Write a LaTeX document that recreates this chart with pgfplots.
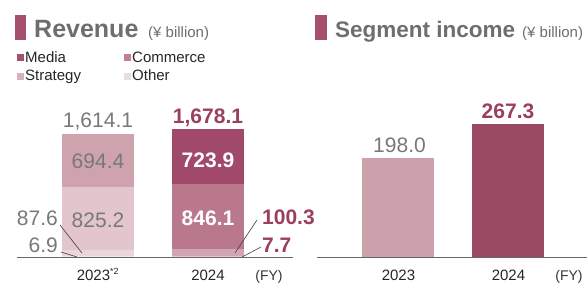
\documentclass[border=0pt]{standalone}
\usepackage{pgfplots}
\pgfplotsset{compat=1.18}
\usepackage{fontspec}
\setmainfont{Liberation Sans}
\definecolor{mediaA}{HTML}{CFA3AE}
\definecolor{commA}{HTML}{E3C6CD}
\definecolor{stratA}{HTML}{EBD6DB}
\definecolor{otherA}{HTML}{F2E6E9}
\definecolor{mediaB}{HTML}{A0496A}
\definecolor{commB}{HTML}{BA788D}
\definecolor{stratB}{HTML}{D2A5B4}
\definecolor{otherB}{HTML}{E6CBD3}
\definecolor{legMedia}{HTML}{A5506C}
\definecolor{legComm}{HTML}{C57F95}
\definecolor{legStrat}{HTML}{D6B0BB}
\definecolor{legOther}{HTML}{EADDE1}
\definecolor{titlegrey}{HTML}{6E6E6E}
\definecolor{numgrey}{HTML}{787878}
\definecolor{accent}{HTML}{9B3F5F}
\definecolor{incA}{HTML}{CDA1AB}
\definecolor{incB}{HTML}{9B4A63}
\begin{document}
\begin{tikzpicture}[x=1pt,y=1pt]
\useasboundingbox (0pt,0pt) rectangle (587pt,282pt);
% ---------- Revenue panel ----------
\begin{axis}[at={(17pt,25pt)}, anchor=south west, scale only axis,
  width=276pt, height=152.6pt,
  xmin=-0.736, xmax=1.773, ymin=0, ymax=2000,
  enlargelimits=false,
  ybar stacked, bar width=72pt,
  axis x line=bottom, axis y line=none,
  x axis line style={-, draw=gray!80!black, line width=0.8pt},
  xtick={0,1}, xticklabels={{2023\textsuperscript{\fontsize{9}{9}\selectfont *2}},2024},
  major tick length=0pt,
  xticklabel style={anchor=base, yshift=-23pt, font=\fontsize{15}{15}\selectfont, text=black!85},
  ytick=\empty, clip=false]
\addplot[fill=otherA, draw=none] coordinates {(0,6.9) (1,0)};
\addplot[fill=stratA, draw=none] coordinates {(0,87.6) (1,0)};
\addplot[fill=commA, draw=none] coordinates {(0,825.2) (1,0)};
\addplot[fill=mediaA, draw=none] coordinates {(0,694.4) (1,0)};
\addplot[fill=otherB, draw=none] coordinates {(0,0) (1,7.7)};
\addplot[fill=stratB, draw=none] coordinates {(0,0) (1,100.3)};
\addplot[fill=commB, draw=none] coordinates {(0,0) (1,846.1)};
\addplot[fill=mediaB, draw=none] coordinates {(0,0) (1,723.9)};
\end{axis}
% value labels (revenue)
\begin{scope}[every node/.style={inner sep=0pt, font=\fontsize{21}{21}\selectfont}]
\node[anchor=base, text=numgrey] at (98pt,155pt) {1,614.1};
\node[anchor=base, text=numgrey] at (98pt,114pt) {694.4};
\node[anchor=base, text=numgrey] at (98pt,55pt) {825.2};
\node[anchor=base east, text=numgrey] at (58pt,57pt) {87.6};
\node[anchor=base east, text=numgrey] at (58pt,30pt) {6.9};
\node[anchor=base, text=accent, font=\fontsize{21}{21}\selectfont\bfseries] at (208pt,159pt) {1,678.1};
\node[anchor=base, text=white, font=\fontsize{21}{21}\selectfont\bfseries] at (208pt,115pt) {723.9};
\node[anchor=base, text=white, font=\fontsize{21}{21}\selectfont\bfseries] at (208pt,57pt) {846.1};
\node[anchor=base west, text=accent, font=\fontsize{21}{21}\selectfont\bfseries] at (262pt,58pt) {100.3};
\node[anchor=base west, text=accent, font=\fontsize{21}{21}\selectfont\bfseries] at (262pt,30pt) {7.7};
\end{scope}
\draw[black!75, line width=0.6pt] (60pt,57pt) -- (82pt,29pt);
\draw[black!75, line width=0.6pt] (61pt,30pt) -- (77pt,25pt);
\draw[black!75, line width=0.6pt] (257pt,62pt) -- (235pt,29pt);
\draw[black!75, line width=0.6pt] (261pt,35pt) -- (242pt,25pt);
\node[anchor=base, inner sep=0pt, font=\fontsize{14}{14}\selectfont, text=black!80] at (269pt,2pt) {(FY)};
% title and legend (revenue)
\fill[legMedia] (15pt,242pt) rectangle (26pt,267pt);
\node[anchor=base west, inner sep=0pt, text=titlegrey, font=\fontsize{25}{25}\selectfont\bfseries] at (34pt,245pt) {Revenue};
\node[anchor=base west, inner sep=0pt, text=titlegrey, font=\fontsize{15}{15}\selectfont] at (148pt,245pt) {(¥ billion)};
\begin{scope}[every node/.style={anchor=base west, inner sep=0pt, font=\fontsize{15}{15}\selectfont, text=black!85}]
\fill[legMedia] (17pt,221pt) rectangle (24pt,228pt);
\node at (25pt,220pt) {Media};
\fill[legComm] (124pt,221pt) rectangle (131pt,228pt);
\node at (132pt,220pt) {Commerce};
\fill[legStrat] (17pt,202pt) rectangle (24pt,209pt);
\node at (25pt,202pt) {Strategy};
\fill[legOther] (124pt,202pt) rectangle (131pt,209pt);
\node at (132pt,202pt) {Other};
\end{scope}
% ---------- Segment income panel ----------
\begin{axis}[at={(317pt,25pt)}, anchor=south west, scale only axis,
  width=270pt, height=174.2pt,
  xmin=-0.741, xmax=1.714, ymin=0, ymax=350,
  enlargelimits=false,
  ybar, bar width=72pt, bar shift=0pt,
  axis x line=bottom, axis y line=none,
  x axis line style={-, draw=gray!80!black, line width=0.8pt},
  xtick={0,1}, xticklabels={2023,2024},
  major tick length=0pt,
  xticklabel style={anchor=base, yshift=-23pt, font=\fontsize{15}{15}\selectfont, text=black!85},
  ytick=\empty, clip=false]
\addplot[fill=incA, draw=none] coordinates {(0,198.0)};
\addplot[fill=incB, draw=none] coordinates {(1,267.3)};
\end{axis}
\node[anchor=base, inner sep=0pt, text=numgrey, font=\fontsize{21}{21}\selectfont] at (399.5pt,130pt) {198.0};
\node[anchor=base, inner sep=0pt, text=accent, font=\fontsize{21}{21}\selectfont\bfseries] at (508pt,164pt) {267.3};
\node[anchor=base, inner sep=0pt, font=\fontsize{14}{14}\selectfont, text=black!80] at (569pt,2pt) {(FY)};
\fill[legMedia] (315pt,242pt) rectangle (327pt,267pt);
\node[anchor=base west, inner sep=0pt, text=titlegrey, font=\fontsize{22.5}{22.5}\selectfont\bfseries] at (335pt,245pt) {Segment income};
\node[anchor=base west, inner sep=0pt, text=titlegrey, font=\fontsize{15}{15}\selectfont] at (522pt,245pt) {(¥ billion)};
\end{tikzpicture}
\end{document}
